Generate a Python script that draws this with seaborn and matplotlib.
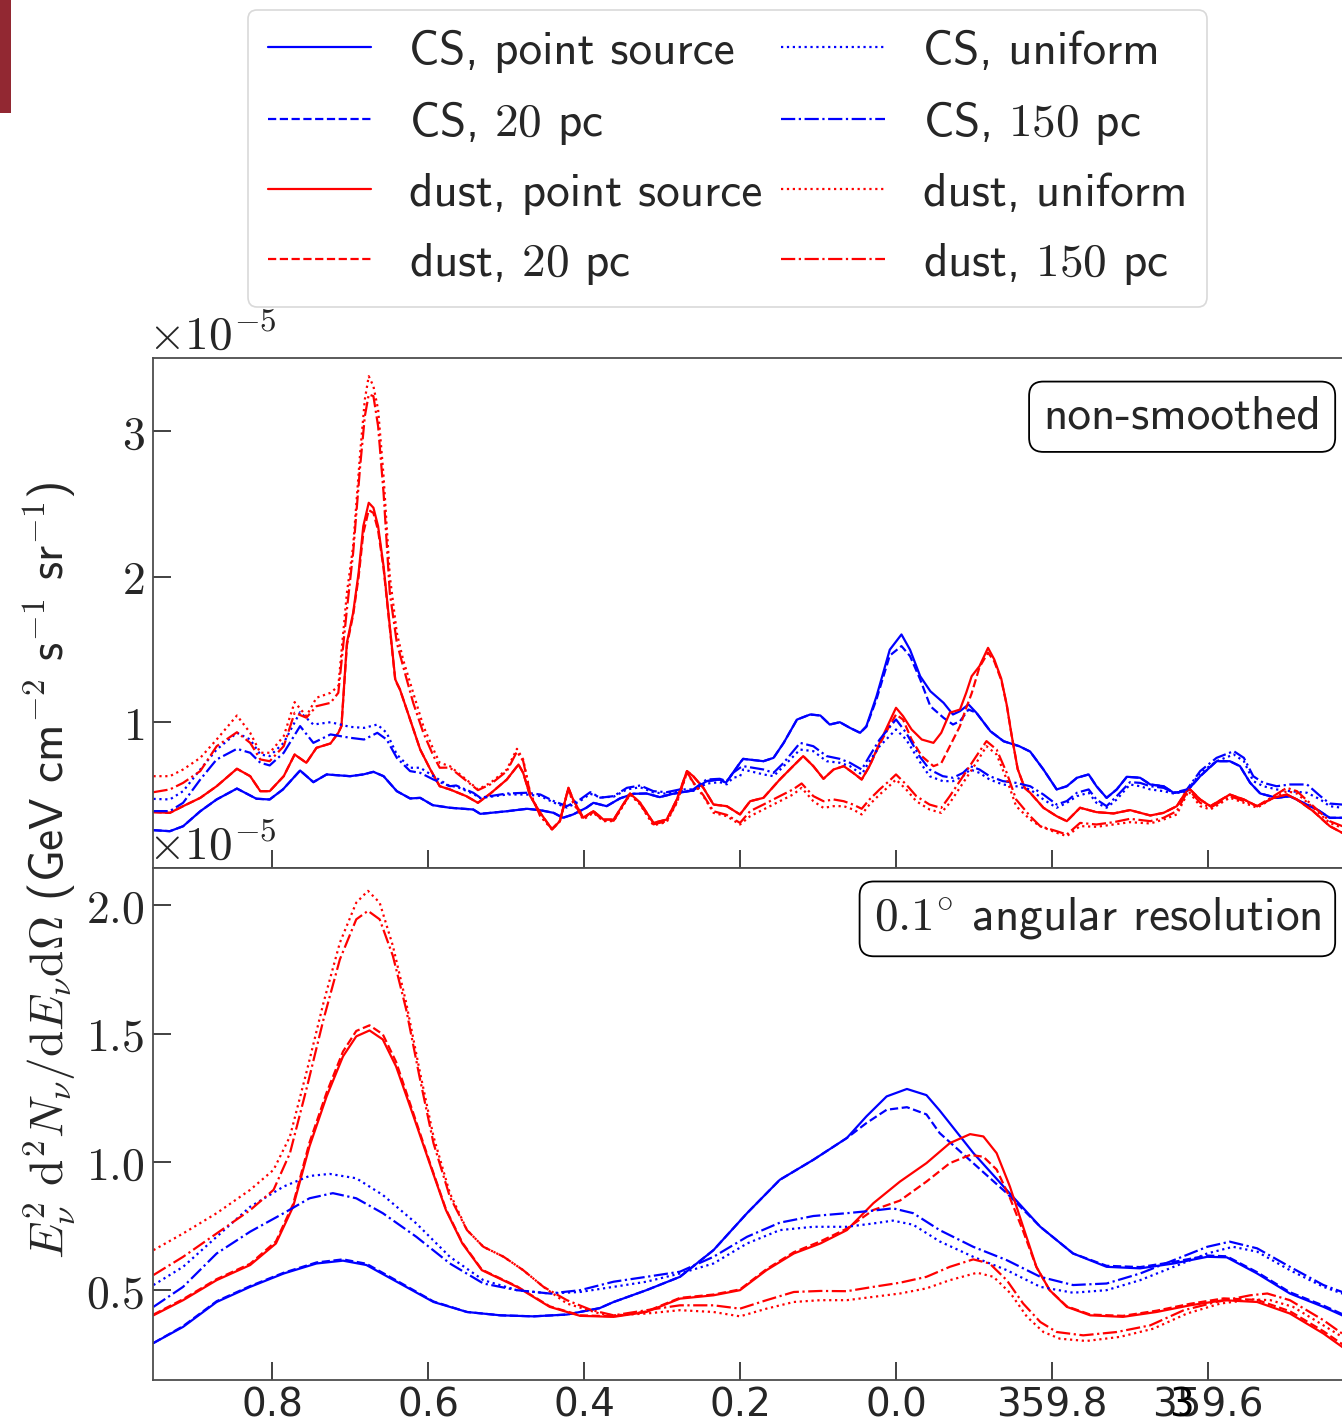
import numpy as np
import pandas as pd
import matplotlib
matplotlib.use("Agg")
import matplotlib.pyplot as plt
import matplotlib.transforms as mtransforms
from matplotlib.patches import Rectangle
from matplotlib.lines import Line2D
from matplotlib.ticker import FuncFormatter
import seaborn as sns

# ---------------- data (galactic longitude l in deg, flux in units of 1e-5) -------------
# top panel: non-smoothed
top_cs_point = [(0.952,0.26),(0.931,0.253),(0.914,0.287),(0.892,0.39),(0.871,0.471),(0.845,0.546),(0.820,0.476),(0.803,0.471),(0.786,0.54),(0.764,0.67),(0.747,0.59),(0.730,0.643),(0.700,0.631),(0.683,0.643),(0.670,0.661),(0.657,0.631),(0.640,0.528),(0.623,0.478),(0.610,0.482),(0.594,0.432),(0.572,0.414),(0.542,0.402),(0.533,0.372),(0.499,0.39),(0.473,0.407),(0.456,0.397),(0.439,0.379),(0.427,0.345),(0.414,0.368),(0.397,0.414),(0.388,0.448),(0.371,0.425),(0.354,0.478),(0.337,0.51),(0.320,0.512),(0.303,0.487),(0.286,0.51),(0.260,0.533),(0.243,0.597),(0.226,0.608),(0.218,0.586),(0.209,0.654),(0.200,0.723),(0.196,0.75),(0.170,0.734),(0.157,0.757),(0.144,0.86),(0.127,1.02),(0.110,1.055),(0.097,1.048),(0.085,0.986),(0.072,1.002),(0.059,0.963),(0.046,0.929),(0.038,0.975),(0.025,1.18),(0.008,1.50),(-0.007,1.605),(-0.018,1.50),(-0.031,1.318),(-0.044,1.215),(-0.061,1.135),(-0.073,1.055),(-0.082,1.078),(-0.093,1.124),(-0.103,1.067),(-0.121,0.94),(-0.138,0.871),(-0.158,0.837),(-0.172,0.80),(-0.189,0.677),(-0.206,0.54),(-0.219,0.562),(-0.232,0.62),(-0.247,0.643),(-0.257,0.562),(-0.270,0.482),(-0.283,0.54),(-0.296,0.627),(-0.313,0.62),(-0.326,0.574),(-0.343,0.562),(-0.356,0.517),(-0.373,0.528),(-0.390,0.631),(-0.411,0.734),(-0.428,0.734),(-0.441,0.70),(-0.454,0.586),(-0.467,0.512),(-0.488,0.482),(-0.505,0.493),(-0.522,0.448),(-0.540,0.402),(-0.556,0.345),(-0.572,0.345),(-0.594,0.33)]

top_cs_20pc = [(0.952,0.26),(0.931,0.253),(0.914,0.287),(0.892,0.39),(0.871,0.471),(0.845,0.546),(0.820,0.476),(0.803,0.471),(0.786,0.54),(0.764,0.67),(0.747,0.59),(0.730,0.643),(0.700,0.631),(0.683,0.643),(0.670,0.661),(0.657,0.631),(0.640,0.528),(0.623,0.478),(0.610,0.482),(0.594,0.432),(0.572,0.414),(0.542,0.402),(0.533,0.372),(0.499,0.39),(0.473,0.407),(0.456,0.397),(0.439,0.379),(0.427,0.345),(0.414,0.368),(0.397,0.414),(0.388,0.448),(0.371,0.425),(0.354,0.478),(0.337,0.51),(0.320,0.512),(0.303,0.487),(0.286,0.51),(0.260,0.533),(0.243,0.597),(0.226,0.608),(0.218,0.586),(0.209,0.654),(0.200,0.723),(0.196,0.75),(0.170,0.734),(0.157,0.757),(0.144,0.86),(0.127,1.02),(0.110,1.055),(0.097,1.048),(0.085,0.986),(0.072,1.002),(0.059,0.963),(0.046,0.929),(0.038,0.97),(0.025,1.16),(0.008,1.46),(-0.007,1.525),(-0.018,1.456),(-0.031,1.296),(-0.044,1.112),(-0.061,1.032),(-0.073,0.986),(-0.082,1.009),(-0.093,1.089),(-0.103,1.067),(-0.121,0.94),(-0.138,0.871),(-0.158,0.837),(-0.172,0.80),(-0.189,0.677),(-0.206,0.54),(-0.219,0.562),(-0.232,0.62),(-0.247,0.643),(-0.257,0.562),(-0.270,0.482),(-0.283,0.54),(-0.296,0.627),(-0.313,0.62),(-0.326,0.574),(-0.343,0.562),(-0.356,0.517),(-0.373,0.528),(-0.390,0.631),(-0.411,0.734),(-0.428,0.734),(-0.441,0.70),(-0.454,0.586),(-0.467,0.512),(-0.488,0.482),(-0.505,0.493),(-0.522,0.448),(-0.540,0.402),(-0.556,0.345),(-0.572,0.345),(-0.594,0.33)]

top_cs_uniform = [(0.952,0.475),(0.931,0.471),(0.914,0.528),(0.892,0.677),(0.871,0.814),(0.845,0.929),(0.828,0.883),(0.815,0.78),(0.803,0.769),(0.785,0.86),(0.764,1.071),(0.747,0.986),(0.725,1.002),(0.700,0.97),(0.682,0.963),(0.665,0.986),(0.653,0.929),(0.640,0.78),(0.623,0.689),(0.610,0.689),(0.593,0.631),(0.572,0.562),(0.564,0.56),(0.542,0.51),(0.533,0.48),(0.499,0.505),(0.474,0.505),(0.456,0.495),(0.439,0.45),(0.422,0.415),(0.405,0.46),(0.392,0.51),(0.379,0.485),(0.362,0.49),(0.345,0.54),(0.328,0.555),(0.311,0.52),(0.294,0.51),(0.277,0.53),(0.260,0.53),(0.243,0.58),(0.226,0.59),(0.217,0.575),(0.209,0.62),(0.200,0.63),(0.196,0.677),(0.170,0.643),(0.157,0.631),(0.144,0.70),(0.123,0.814),(0.106,0.803),(0.089,0.734),(0.072,0.723),(0.059,0.70),(0.044,0.643),(0.034,0.734),(0.021,0.837),(0.0,0.952),(-0.013,0.883),(-0.030,0.734),(-0.043,0.631),(-0.060,0.597),(-0.073,0.597),(-0.086,0.631),(-0.095,0.677),(-0.107,0.654),(-0.120,0.608),(-0.137,0.574),(-0.154,0.562),(-0.172,0.54),(-0.189,0.471),(-0.206,0.414),(-0.219,0.448),(-0.232,0.494),(-0.247,0.517),(-0.257,0.448),(-0.270,0.414),(-0.283,0.471),(-0.300,0.574),(-0.313,0.562),(-0.326,0.54),(-0.343,0.528),(-0.356,0.512),(-0.373,0.528),(-0.390,0.654),(-0.411,0.734),(-0.433,0.78),(-0.446,0.734),(-0.458,0.597),(-0.471,0.562),(-0.488,0.54),(-0.505,0.528),(-0.527,0.517),(-0.544,0.471),(-0.556,0.425),(-0.572,0.414),(-0.594,0.40)]

top_cs_150pc = [(0.952,0.391),(0.931,0.391),(0.914,0.448),(0.892,0.608),(0.871,0.746),(0.845,0.819),(0.828,0.792),(0.815,0.723),(0.803,0.705),(0.785,0.792),(0.764,0.975),(0.747,0.86),(0.725,0.918),(0.700,0.895),(0.682,0.883),(0.665,0.929),(0.653,0.883),(0.640,0.757),(0.623,0.666),(0.610,0.654),(0.593,0.608),(0.572,0.562),(0.564,0.567),(0.542,0.517),(0.533,0.483),(0.499,0.512),(0.474,0.517),(0.456,0.505),(0.439,0.46),(0.422,0.425),(0.405,0.471),(0.392,0.521),(0.379,0.483),(0.362,0.494),(0.345,0.551),(0.328,0.567),(0.311,0.528),(0.294,0.521),(0.277,0.54),(0.260,0.54),(0.243,0.608),(0.226,0.613),(0.217,0.597),(0.209,0.654),(0.200,0.689),(0.196,0.70),(0.170,0.677),(0.157,0.654),(0.144,0.723),(0.123,0.86),(0.106,0.837),(0.089,0.769),(0.072,0.75),(0.059,0.723),(0.044,0.677),(0.034,0.769),(0.021,0.883),(0.0,1.021),(-0.013,0.929),(-0.030,0.769),(-0.043,0.677),(-0.060,0.631),(-0.073,0.62),(-0.086,0.654),(-0.095,0.70),(-0.107,0.677),(-0.120,0.631),(-0.137,0.597),(-0.154,0.585),(-0.172,0.562),(-0.189,0.505),(-0.206,0.436),(-0.219,0.46),(-0.232,0.517),(-0.247,0.54),(-0.257,0.471),(-0.270,0.425),(-0.283,0.494),(-0.300,0.59),(-0.313,0.585),(-0.326,0.562),(-0.343,0.551),(-0.356,0.517),(-0.373,0.54),(-0.390,0.666),(-0.411,0.757),(-0.433,0.803),(-0.446,0.757),(-0.458,0.631),(-0.471,0.585),(-0.488,0.562),(-0.505,0.574),(-0.527,0.574),(-0.544,0.494),(-0.556,0.443),(-0.572,0.436),(-0.594,0.42)]

top_dust_point = [(0.952,0.384),(0.931,0.379),(0.914,0.425),(0.892,0.482),(0.871,0.562),(0.845,0.682),(0.828,0.631),(0.815,0.528),(0.803,0.528),(0.785,0.631),(0.771,0.78),(0.756,0.723),(0.743,0.826),(0.725,0.856),(0.715,0.929),(0.711,0.975),(0.704,1.548),(0.696,1.754),(0.689,2.029),(0.683,2.349),(0.676,2.51),(0.670,2.476),(0.664,2.349),(0.657,2.074),(0.649,1.662),(0.642,1.296),(0.636,1.227),(0.623,1.021),(0.610,0.814),(0.597,0.677),(0.585,0.562),(0.572,0.54),(0.551,0.494),(0.536,0.448),(0.520,0.512),(0.499,0.608),(0.484,0.711),(0.478,0.654),(0.469,0.494),(0.456,0.379),(0.441,0.265),(0.431,0.322),(0.420,0.551),(0.414,0.471),(0.401,0.345),(0.388,0.391),(0.375,0.333),(0.362,0.333),(0.341,0.512),(0.328,0.448),(0.311,0.31),(0.294,0.333),(0.281,0.471),(0.268,0.666),(0.260,0.631),(0.247,0.551),(0.234,0.436),(0.217,0.425),(0.200,0.368),(0.187,0.459),(0.170,0.482),(0.149,0.608),(0.132,0.70),(0.119,0.769),(0.106,0.70),(0.093,0.613),(0.080,0.677),(0.067,0.70),(0.055,0.654),(0.044,0.608),(0.034,0.70),(0.021,0.86),(0.009,0.998),(0.0,1.101),(-0.009,1.044),(-0.020,0.952),(-0.033,0.883),(-0.048,0.86),(-0.058,0.929),(-0.069,1.067),(-0.082,1.089),(-0.090,1.204),(-0.097,1.318),(-0.107,1.387),(-0.118,1.513),(-0.126,1.433),(-0.135,1.30),(-0.142,1.12),(-0.148,0.92),(-0.156,0.68),(-0.165,0.55),(-0.172,0.517),(-0.189,0.414),(-0.206,0.356),(-0.219,0.322),(-0.236,0.414),(-0.257,0.384),(-0.279,0.375),(-0.300,0.398),(-0.326,0.361),(-0.343,0.379),(-0.360,0.425),(-0.375,0.551),(-0.390,0.471),(-0.403,0.425),(-0.428,0.505),(-0.446,0.471),(-0.463,0.425),(-0.484,0.482),(-0.501,0.505),(-0.514,0.471),(-0.535,0.39),(-0.556,0.288),(-0.572,0.242),(-0.594,0.21)]

top_dust_20pc = [(0.952,0.384),(0.931,0.379),(0.914,0.425),(0.892,0.482),(0.871,0.562),(0.845,0.682),(0.828,0.631),(0.815,0.528),(0.803,0.528),(0.785,0.631),(0.771,0.78),(0.756,0.723),(0.743,0.826),(0.725,0.856),(0.715,0.929),(0.711,0.975),(0.704,1.53),(0.696,1.74),(0.689,2.0),(0.683,2.30),(0.676,2.46),(0.670,2.44),(0.664,2.32),(0.657,2.06),(0.649,1.65),(0.642,1.29),(0.636,1.227),(0.623,1.021),(0.610,0.814),(0.597,0.677),(0.585,0.562),(0.572,0.54),(0.551,0.494),(0.536,0.448),(0.520,0.512),(0.499,0.608),(0.484,0.711),(0.478,0.654),(0.469,0.494),(0.456,0.379),(0.441,0.265),(0.431,0.322),(0.420,0.551),(0.414,0.471),(0.401,0.345),(0.388,0.391),(0.375,0.333),(0.362,0.333),(0.341,0.512),(0.328,0.448),(0.311,0.31),(0.294,0.333),(0.281,0.471),(0.268,0.666),(0.260,0.631),(0.247,0.551),(0.234,0.436),(0.217,0.425),(0.200,0.368),(0.187,0.459),(0.170,0.482),(0.149,0.608),(0.132,0.70),(0.119,0.769),(0.106,0.70),(0.093,0.613),(0.080,0.677),(0.067,0.70),(0.055,0.654),(0.044,0.608),(0.034,0.70),(0.021,0.85),(0.009,0.97),(0.0,1.055),(-0.009,1.02),(-0.020,0.883),(-0.033,0.769),(-0.048,0.70),(-0.058,0.72),(-0.069,0.837),(-0.082,0.975),(-0.090,1.10),(-0.097,1.20),(-0.107,1.38),(-0.118,1.48),(-0.126,1.42),(-0.135,1.29),(-0.142,1.12),(-0.148,0.92),(-0.156,0.68),(-0.165,0.55),(-0.172,0.517),(-0.189,0.414),(-0.206,0.356),(-0.219,0.322),(-0.236,0.414),(-0.257,0.384),(-0.279,0.375),(-0.300,0.398),(-0.326,0.361),(-0.343,0.379),(-0.360,0.425),(-0.375,0.551),(-0.390,0.471),(-0.403,0.425),(-0.428,0.505),(-0.446,0.471),(-0.463,0.425),(-0.484,0.482),(-0.501,0.505),(-0.514,0.471),(-0.535,0.39),(-0.556,0.288),(-0.572,0.242),(-0.594,0.21)]

top_dust_uniform = [(0.952,0.631),(0.931,0.631),(0.914,0.677),(0.892,0.757),(0.871,0.883),(0.845,1.048),(0.828,0.929),(0.815,0.792),(0.803,0.792),(0.785,0.906),(0.771,1.14),(0.756,1.044),(0.743,1.17),(0.725,1.204),(0.715,1.25),(0.704,1.891),(0.696,2.212),(0.687,2.853),(0.681,3.22),(0.676,3.38),(0.670,3.311),(0.664,3.151),(0.657,2.693),(0.649,2.006),(0.640,1.616),(0.632,1.433),(0.619,1.204),(0.606,0.975),(0.593,0.814),(0.585,0.723),(0.572,0.70),(0.551,0.608),(0.536,0.54),(0.520,0.585),(0.499,0.677),(0.486,0.819),(0.478,0.746),(0.469,0.517),(0.456,0.356),(0.441,0.265),(0.431,0.322),(0.420,0.54),(0.414,0.448),(0.401,0.333),(0.388,0.379),(0.375,0.322),(0.362,0.322),(0.341,0.505),(0.328,0.436),(0.311,0.293),(0.294,0.316),(0.281,0.448),(0.268,0.654),(0.260,0.585),(0.247,0.494),(0.234,0.379),(0.217,0.356),(0.200,0.299),(0.187,0.356),(0.170,0.402),(0.149,0.459),(0.132,0.505),(0.121,0.551),(0.106,0.459),(0.093,0.413),(0.080,0.425),(0.067,0.425),(0.055,0.402),(0.044,0.368),(0.034,0.436),(0.021,0.505),(0.009,0.562),(0.0,0.608),(-0.013,0.54),(-0.026,0.459),(-0.043,0.402),(-0.058,0.379),(-0.069,0.448),(-0.086,0.585),(-0.103,0.723),(-0.116,0.837),(-0.129,0.78),(-0.142,0.608),(-0.154,0.425),(-0.172,0.333),(-0.185,0.287),(-0.206,0.242),(-0.219,0.219),(-0.236,0.288),(-0.257,0.283),(-0.279,0.299),(-0.300,0.315),(-0.326,0.306),(-0.343,0.333),(-0.360,0.368),(-0.375,0.528),(-0.390,0.425),(-0.403,0.402),(-0.428,0.483),(-0.446,0.448),(-0.463,0.414),(-0.484,0.483),(-0.501,0.528),(-0.514,0.512),(-0.535,0.414),(-0.556,0.31),(-0.572,0.276),(-0.594,0.25)]

top_dust_150pc = [(0.952,0.521),(0.931,0.54),(0.914,0.585),(0.892,0.666),(0.871,0.837),(0.845,0.933),(0.828,0.86),(0.815,0.746),(0.803,0.734),(0.785,0.837),(0.771,1.067),(0.756,1.033),(0.743,1.112),(0.725,1.135),(0.715,1.204),(0.704,1.777),(0.696,2.166),(0.687,2.762),(0.681,3.105),(0.676,3.254),(0.670,3.243),(0.664,3.037),(0.657,2.579),(0.649,1.891),(0.640,1.548),(0.632,1.387),(0.619,1.135),(0.606,0.929),(0.593,0.769),(0.585,0.689),(0.572,0.69),(0.551,0.60),(0.536,0.535),(0.520,0.575),(0.499,0.665),(0.486,0.80),(0.478,0.735),(0.469,0.51),(0.456,0.356),(0.441,0.27),(0.431,0.322),(0.420,0.545),(0.414,0.455),(0.401,0.34),(0.388,0.385),(0.375,0.325),(0.362,0.325),(0.341,0.508),(0.328,0.44),(0.311,0.30),(0.294,0.322),(0.281,0.455),(0.268,0.66),(0.260,0.59),(0.247,0.50),(0.234,0.39),(0.217,0.365),(0.200,0.31),(0.187,0.391),(0.170,0.436),(0.149,0.494),(0.132,0.54),(0.121,0.581),(0.106,0.494),(0.093,0.459),(0.080,0.471),(0.067,0.459),(0.055,0.436),(0.044,0.407),(0.034,0.471),(0.021,0.54),(0.009,0.597),(0.0,0.643),(-0.013,0.574),(-0.026,0.494),(-0.043,0.436),(-0.058,0.413),(-0.069,0.494),(-0.086,0.631),(-0.103,0.769),(-0.116,0.872),(-0.129,0.814),(-0.142,0.654),(-0.154,0.471),(-0.172,0.356),(-0.185,0.287),(-0.206,0.253),(-0.219,0.23),(-0.236,0.31),(-0.257,0.299),(-0.279,0.315),(-0.300,0.338),(-0.326,0.322),(-0.343,0.345),(-0.360,0.391),(-0.375,0.54),(-0.390,0.448),(-0.403,0.414),(-0.428,0.494),(-0.446,0.46),(-0.463,0.425),(-0.484,0.494),(-0.501,0.551),(-0.514,0.528),(-0.535,0.425),(-0.556,0.322),(-0.572,0.288),(-0.594,0.26)]

# bottom panel: 0.1 deg angular resolution
bot_cs_point = [(0.952,0.294),(0.914,0.357),(0.871,0.454),(0.828,0.513),(0.785,0.565),(0.743,0.604),(0.709,0.615),(0.679,0.598),(0.636,0.526),(0.593,0.454),(0.550,0.415),(0.507,0.402),(0.465,0.398),(0.422,0.405),(0.380,0.43),(0.362,0.454),(0.320,0.50),(0.277,0.552),(0.234,0.656),(0.191,0.80),(0.149,0.93),(0.106,1.008),(0.063,1.093),(0.038,1.177),(0.012,1.255),(-0.014,1.284),(-0.039,1.26),(-0.056,1.20),(-0.099,1.035),(-0.142,0.89),(-0.185,0.747),(-0.227,0.643),(-0.270,0.591),(-0.313,0.585),(-0.356,0.604),(-0.399,0.63),(-0.424,0.628),(-0.463,0.565),(-0.505,0.487),(-0.548,0.435),(-0.572,0.402),(-0.594,0.38)]

bot_cs_20pc = [(0.952,0.294),(0.914,0.36),(0.871,0.457),(0.828,0.516),(0.785,0.568),(0.743,0.608),(0.709,0.62),(0.679,0.603),(0.636,0.53),(0.593,0.456),(0.550,0.415),(0.507,0.402),(0.465,0.398),(0.422,0.405),(0.380,0.43),(0.362,0.454),(0.320,0.50),(0.277,0.552),(0.234,0.656),(0.191,0.80),(0.149,0.93),(0.106,1.008),(0.063,1.093),(0.038,1.151),(0.012,1.203),(-0.014,1.213),(-0.039,1.185),(-0.056,1.112),(-0.099,0.995),(-0.142,0.878),(-0.185,0.747),(-0.227,0.643),(-0.270,0.595),(-0.313,0.59),(-0.356,0.61),(-0.399,0.635),(-0.424,0.632),(-0.463,0.57),(-0.505,0.492),(-0.548,0.44),(-0.572,0.407),(-0.594,0.385)]

bot_cs_uniform = [(0.952,0.52),(0.914,0.591),(0.871,0.708),(0.828,0.825),(0.785,0.904),(0.752,0.945),(0.726,0.953),(0.692,0.936),(0.658,0.871),(0.615,0.76),(0.572,0.63),(0.529,0.539),(0.486,0.50),(0.444,0.487),(0.405,0.493),(0.362,0.513),(0.320,0.533),(0.277,0.565),(0.234,0.604),(0.191,0.682),(0.149,0.734),(0.106,0.747),(0.063,0.747),(0.029,0.76),(0.004,0.771),(-0.022,0.755),(-0.056,0.69),(-0.099,0.63),(-0.142,0.578),(-0.185,0.513),(-0.227,0.49),(-0.270,0.50),(-0.313,0.539),(-0.356,0.591),(-0.399,0.643),(-0.432,0.669),(-0.463,0.65),(-0.505,0.578),(-0.548,0.513),(-0.572,0.487),(-0.594,0.47)]

bot_cs_150pc = [(0.952,0.435),(0.914,0.513),(0.871,0.643),(0.828,0.728),(0.785,0.80),(0.752,0.858),(0.722,0.878),(0.692,0.858),(0.658,0.80),(0.615,0.708),(0.572,0.604),(0.529,0.526),(0.486,0.50),(0.444,0.487),(0.405,0.50),(0.362,0.533),(0.320,0.552),(0.277,0.572),(0.234,0.63),(0.191,0.708),(0.149,0.763),(0.106,0.789),(0.063,0.80),(0.029,0.81),(0.004,0.819),(-0.022,0.80),(-0.056,0.734),(-0.099,0.669),(-0.142,0.617),(-0.185,0.552),(-0.227,0.52),(-0.270,0.526),(-0.313,0.565),(-0.356,0.617),(-0.399,0.669),(-0.428,0.689),(-0.463,0.663),(-0.505,0.591),(-0.548,0.52),(-0.572,0.493),(-0.594,0.475)]

bot_dust_point = [(0.952,0.402),(0.914,0.461),(0.871,0.539),(0.828,0.598),(0.795,0.682),(0.773,0.825),(0.752,1.06),(0.730,1.255),(0.709,1.411),(0.692,1.489),(0.675,1.512),(0.658,1.477),(0.641,1.372),(0.620,1.19),(0.598,0.995),(0.577,0.812),(0.556,0.682),(0.531,0.578),(0.486,0.513),(0.444,0.435),(0.405,0.40),(0.362,0.396),(0.320,0.415),(0.277,0.467),(0.234,0.48),(0.200,0.50),(0.166,0.578),(0.131,0.643),(0.097,0.682),(0.063,0.734),(0.029,0.839),(-0.005,0.923),(-0.039,0.995),(-0.069,1.073),(-0.095,1.108),(-0.112,1.099),(-0.129,1.034),(-0.146,0.904),(-0.163,0.747),(-0.180,0.591),(-0.197,0.50),(-0.219,0.435),(-0.249,0.402),(-0.291,0.396),(-0.334,0.415),(-0.377,0.441),(-0.420,0.461),(-0.463,0.454),(-0.505,0.409),(-0.548,0.331),(-0.572,0.279),(-0.594,0.24)]

bot_dust_20pc = [(0.952,0.405),(0.914,0.465),(0.871,0.543),(0.828,0.603),(0.795,0.69),(0.773,0.835),(0.752,1.075),(0.730,1.27),(0.709,1.43),(0.692,1.51),(0.675,1.532),(0.658,1.497),(0.641,1.39),(0.620,1.20),(0.598,1.0),(0.577,0.815),(0.556,0.685),(0.531,0.58),(0.486,0.515),(0.444,0.437),(0.405,0.402),(0.362,0.398),(0.320,0.417),(0.277,0.47),(0.234,0.483),(0.200,0.503),(0.166,0.582),(0.131,0.648),(0.097,0.69),(0.063,0.74),(0.029,0.8125),(-0.005,0.849),(-0.039,0.923),(-0.069,0.995),(-0.095,1.027),(-0.112,1.02),(-0.129,0.97),(-0.146,0.86),(-0.163,0.73),(-0.180,0.59),(-0.197,0.50),(-0.219,0.437),(-0.249,0.405),(-0.291,0.40),(-0.334,0.42),(-0.377,0.447),(-0.420,0.468),(-0.463,0.462),(-0.505,0.418),(-0.548,0.34),(-0.572,0.29),(-0.594,0.25)]

bot_dust_uniform = [(0.952,0.656),(0.914,0.721),(0.871,0.80),(0.828,0.891),(0.798,0.969),(0.777,1.099),(0.755,1.359),(0.734,1.62),(0.713,1.854),(0.692,2.01),(0.677,2.056),(0.662,2.01),(0.645,1.841),(0.628,1.62),(0.611,1.359),(0.593,1.099),(0.572,0.878),(0.550,0.734),(0.529,0.669),(0.503,0.63),(0.478,0.578),(0.452,0.513),(0.422,0.448),(0.380,0.409),(0.362,0.402),(0.320,0.409),(0.277,0.422),(0.234,0.415),(0.200,0.398),(0.166,0.428),(0.131,0.454),(0.097,0.461),(0.063,0.461),(0.029,0.474),(-0.005,0.487),(-0.039,0.507),(-0.069,0.539),(-0.104,0.568),(-0.125,0.552),(-0.147,0.487),(-0.168,0.396),(-0.189,0.337),(-0.210,0.311),(-0.244,0.302),(-0.287,0.318),(-0.330,0.35),(-0.373,0.409),(-0.416,0.448),(-0.458,0.464),(-0.480,0.461),(-0.509,0.435),(-0.548,0.363),(-0.572,0.318),(-0.594,0.29)]

bot_dust_150pc = [(0.952,0.559),(0.914,0.63),(0.871,0.721),(0.828,0.812),(0.798,0.891),(0.777,1.034),(0.755,1.294),(0.734,1.555),(0.713,1.789),(0.692,1.945),(0.677,1.978),(0.662,1.945),(0.645,1.802),(0.628,1.594),(0.611,1.333),(0.593,1.073),(0.572,0.864),(0.550,0.734),(0.529,0.669),(0.503,0.63),(0.478,0.578),(0.452,0.513),(0.422,0.461),(0.390,0.422),(0.362,0.402),(0.320,0.422),(0.277,0.441),(0.234,0.441),(0.200,0.428),(0.166,0.461),(0.131,0.493),(0.097,0.497),(0.063,0.496),(0.029,0.513),(-0.005,0.529),(-0.039,0.552),(-0.069,0.591),(-0.099,0.62),(-0.120,0.604),(-0.142,0.539),(-0.163,0.448),(-0.185,0.376),(-0.206,0.337),(-0.240,0.324),(-0.283,0.337),(-0.326,0.363),(-0.369,0.422),(-0.411,0.454),(-0.454,0.48),(-0.476,0.487),(-0.505,0.461),(-0.548,0.383),(-0.572,0.331),(-0.594,0.30)]

series_names = ["CS, point source", r"CS, $\mathrm{20}$ pc", "dust, point source", r"dust, $\mathrm{20}$ pc",
                "CS, uniform", r"CS, $\mathrm{150}$ pc", "dust, uniform", r"dust, $\mathrm{150}$ pc"]
series_colors = ["blue", "blue", "red", "red", "blue", "blue", "red", "red"]
series_styles = ["-", "--", "-", "--", ":", "-.", ":", "-."]
top_series = [top_cs_point, top_cs_20pc, top_dust_point, top_dust_20pc,
              top_cs_uniform, top_cs_150pc, top_dust_uniform, top_dust_150pc]
bot_series = [bot_cs_point, bot_cs_20pc, bot_dust_point, bot_dust_20pc,
              bot_cs_uniform, bot_cs_150pc, bot_dust_uniform, bot_dust_150pc]

x_ticks = [0.8, 0.6, 0.4, 0.2, 0.0, -0.2, -0.4]
x_ticklabels = ["0.8", "0.6", "0.4", "0.2", "0.0", "359.8", "359.6"]
top_yticks = [1, 2, 3]
bot_yticks = [0.5, 1.0, 1.5, 2.0]

# ---------------- styling ----------------
sns.set_theme(style="white")
plt.rcParams["font.family"] = ["DejaVu Sans"]
plt.rcParams["mathtext.fontset"] = "cm"
plt.rcParams["axes.unicode_minus"] = False

W, H = 1342, 1428
fig = plt.figure(figsize=(W / 100, H / 100), dpi=100)
fig.patch.set_facecolor("white")
L = 153 / W
R = 1359 / W
ax1 = fig.add_axes([L, 1 - 868 / H, R - L, 510 / H])
ax2 = fig.add_axes([L, 1 - 1380 / H, R - L, 512 / H])

LW = 1.6
for ax, data in ((ax1, top_series), (ax2, bot_series)):
    for pairs, name, c, ls in zip(data, series_names, series_colors, series_styles):
        df = pd.DataFrame(pairs, columns=["l", "flux"])
        sns.lineplot(data=df, x="l", y="flux", ax=ax, color=c, linestyle=ls, linewidth=LW,
                     estimator=None, sort=False, legend=False)

XL = (0.9526, -0.5936)
for ax in (ax1, ax2):
    ax.set_xlim(*XL)
    ax.set_xlabel("")
    ax.set_ylabel("")
    ax.set_facecolor("white")
    for s in ax.spines.values():
        s.set_color("0.3")
        s.set_linewidth(1.3)
    ax.tick_params(direction="in", length=13, width=1.3, color="0.2",
                   bottom=True, left=True, top=False, right=False, pad=6)
    ax.set_xticks(x_ticks)
    ax.grid(False)

ax1.set_ylim(0, 3.505)
ax1.set_yticks(top_yticks)
ax1.yaxis.set_major_formatter(FuncFormatter(lambda v, p: r"$\mathrm{%d}$" % round(v)))
ax1.tick_params(axis="x", labelbottom=False)
ax1.tick_params(axis="y", labelsize=33)

ax2.set_ylim(0.15, 2.145)
ax2.set_yticks(bot_yticks)
ax2.yaxis.set_major_formatter(FuncFormatter(lambda v, p: r"$\mathrm{%.1f}$" % v))
ax2.set_xticklabels(x_ticklabels)
ax2.tick_params(axis="x", labelsize=28, pad=5)
ax2.tick_params(axis="y", labelsize=33)

# stray overlapping glyph under the last tick (as in the original)
trans = mtransforms.offset_copy(ax2.get_xaxis_transform(), fig=fig, y=-5, units="points")
ax2.text(-0.3654, 0, "3", transform=trans, ha="center", va="top", fontsize=28, color="black")

# multiplier texts
for ax in (ax1, ax2):
    ax.text(-0.004, 1.0, r"$\times\mathrm{10}^{-\mathrm{5}}$", transform=ax.transAxes,
            ha="left", va="bottom", fontsize=34, clip_on=False, zorder=10)

# panel labels
box = dict(boxstyle="round,pad=0.3", fc="white", ec="black", lw=1.3)
ax1.text(0.9685, 0.926, "non-smoothed", transform=ax1.transAxes, ha="right", va="top",
         fontsize=34, family="cmss10", bbox=box)
ax2.text(0.9685, 0.946, r"$\mathrm{0.1}^{\circ}$ angular resolution", transform=ax2.transAxes,
         ha="right", va="top", fontsize=34, family="cmss10", bbox=box)

# legend
handles = [Line2D([], [], color=c, linestyle=ls, linewidth=LW) for c, ls in zip(series_colors, series_styles)]
leg = fig.legend(handles, series_names, ncol=2, loc="upper center",
                 bbox_to_anchor=(727.5 / W, 1 - 10 / H), prop={"family": "cmss10", "size": 34},
                 frameon=True, fancybox=True, edgecolor="0.85", facecolor="white", framealpha=1,
                 handlelength=2.2, handletextpad=0.8, columnspacing=0.4, labelspacing=0.55,
                 borderpad=0.42, borderaxespad=0.0)
leg.get_frame().set_linewidth(1.2)

# y label spanning both panels
fig.text(50 / W, 1 - 870 / H,
         r"$E_\nu^{\mathrm{2}}\ \mathrm{d}^{\mathrm{2}}N_\nu/\mathrm{d}E_\nu\mathrm{d}\Omega$ (GeV cm$^{\mathsf{-2}}$ s$^{\mathsf{-1}}$ sr$^{\mathsf{-1}}$)",
         rotation=90, ha="center", va="center", fontsize=34, family="cmss10")

# small coloured tab at top-left corner
fig.patches.append(Rectangle((0, 1 - 113 / H), 11 / W, 113 / H, transform=fig.transFigure,
                             facecolor="#922832", edgecolor="none"))

fig.savefig("out.png", dpi=100, facecolor="white")
